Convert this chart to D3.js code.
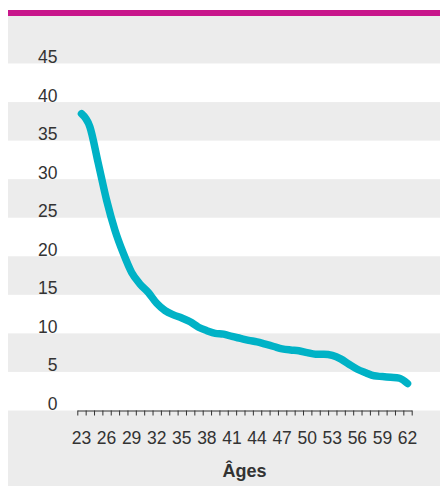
<!DOCTYPE html>
<meta charset="utf-8">
<script src="https://d3js.org/d3.v7.min.js"></script>
<style>
  body { margin: 0; background: #fff; }
  text { font-family: "Liberation Sans Narrow", "Arial Narrow", "Liberation Sans", sans-serif; fill: #333; }
</style>
<div id="chart"></div>
<script>

// data
const ages = [23, 24, 25, 26, 27, 28, 29, 30, 31, 32, 33, 34, 35, 36, 37, 38, 39, 40, 41, 42,
              43, 44, 45, 46, 47, 48, 49, 50, 51, 52, 53, 54, 55, 56, 57, 58, 59, 60, 61, 62];
const values = [38.5, 36.8, 32.1, 27.3, 23.4, 20.4, 17.9, 16.4, 15.3, 13.9, 12.95, 12.4, 12.0, 11.5, 10.8, 10.35, 10.0, 9.9, 9.6, 9.35,
                9.1, 8.9, 8.6, 8.3, 8.0, 7.85, 7.75, 7.5, 7.3, 7.3, 7.15, 6.7, 6.0, 5.35, 4.9, 4.5, 4.4, 4.3, 4.2, 3.5];
const yTicks = [0, 5, 10, 15, 20, 25, 30, 35, 40, 45];
const xLabels = [23, 26, 29, 32, 35, 38, 41, 44, 47, 50, 53, 56, 59, 62];

const width = 440, height = 486;

const svg = d3.select("#chart")
  .append("svg")
    .attr("width", width)
    .attr("height", height);

// scales: ages sit in the middle of one-year slots
const x = d3.scaleLinear()
  .domain([d3.min(ages) - 0.5, d3.max(ages) + 0.5])
  .range([77.3, 411.7]);

const y = d3.scaleLinear()
  .domain([0, 45])
  .range([410.5, 63.5]);

// grey background, then white bands
svg.append("rect")
  .attr("x", 8).attr("y", 16)
  .attr("width", width - 8).attr("height", height - 16)
  .attr("fill", "#ececec");

svg.selectAll(".band")
  .data(yTicks.filter(d => d % 10 === 0))
  .join("rect")
    .attr("class", "band")
    .attr("x", 8)
    .attr("y", d => y(d + 5))
    .attr("width", width - 8)
    .attr("height", d => y(d) - y(d + 5))
    .attr("fill", "#fff");

// magenta rule on top
svg.append("rect")
  .attr("x", 8).attr("y", 10)
  .attr("width", width - 8).attr("height", 6)
  .attr("fill", "#c8168b");

// y labels
svg.selectAll(".ylab")
  .data(yTicks)
  .join("text")
    .attr("class", "ylab")
    .attr("x", 57.5)
    .attr("y", d => y(d) - 0.5)
    .attr("text-anchor", "end")
    .attr("font-size", "17.5px")
    .text(d => d);

// x axis: ticks on slot edges
const edges = ages.map(a => a - 0.5).concat([d3.max(ages) + 0.5]);
const xAxis = svg.append("g")
  .attr("transform", `translate(0,${y(0)})`)
  .call(d3.axisBottom(x).tickValues(edges).tickSize(5).tickSizeOuter(0).tickFormat(""));
xAxis.selectAll("line, path").attr("stroke", "#333");

svg.selectAll(".xlab")
  .data(xLabels)
  .join("text")
    .attr("class", "xlab")
    .attr("x", d => x(d))
    .attr("y", 443.5)
    .attr("text-anchor", "middle")
    .attr("font-size", "17.5px")
    .text(d => d);

svg.append("text")
  .attr("x", (x.range()[0] + x.range()[1]) / 2)
  .attr("y", 476.5)
  .attr("text-anchor", "middle")
  .attr("font-size", "18px")
  .attr("font-weight", "bold")
  .text("Âges");

// the line
const line = d3.line()
  .x((d, i) => x(ages[i]))
  .y(d => y(d))
  .curve(d3.curveMonotoneX);

svg.append("path")
  .datum(values)
  .attr("d", line)
  .attr("fill", "none")
  .attr("stroke", "#00b2c6")
  .attr("stroke-width", 7.5)
  .attr("stroke-linecap", "round")
  .attr("stroke-linejoin", "round");
</script>
